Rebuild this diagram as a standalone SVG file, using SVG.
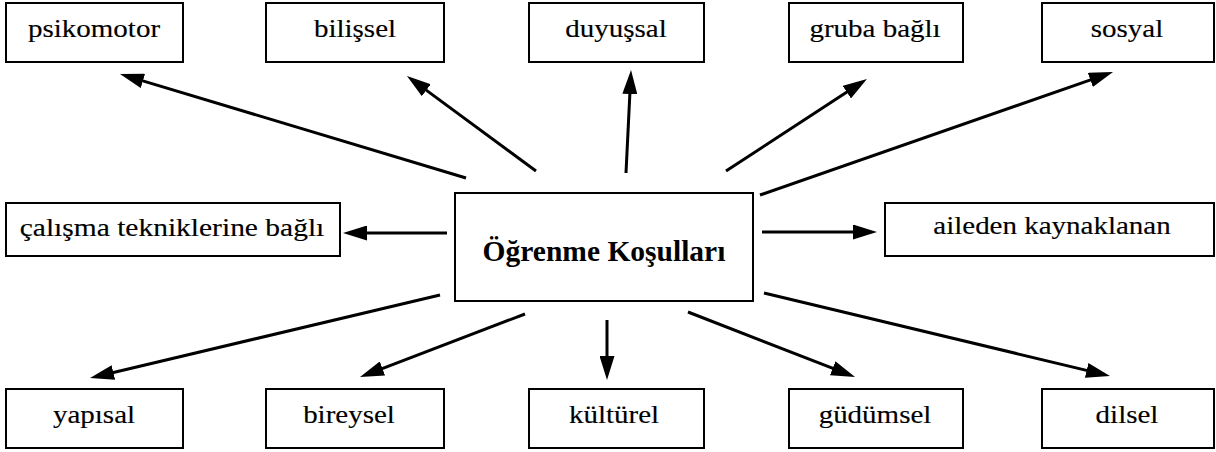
<svg xmlns="http://www.w3.org/2000/svg" width="1216" height="452" viewBox="0 0 1216 452">
<style>
.box{fill:#fff;stroke:#000;stroke-width:2}
.lbl{font-family:"Liberation Serif","Times New Roman",serif;font-size:25px;fill:#000;stroke:#000;stroke-width:0.15;text-anchor:middle}
.main{font-family:"Liberation Serif","Times New Roman",serif;font-weight:bold;font-size:29.5px;fill:#000;text-anchor:middle}
.conn line{stroke:#000;stroke-width:3}
</style>
<defs>
<marker id="ah" markerUnits="userSpaceOnUse" markerWidth="24" markerHeight="15" refX="1" refY="7.5" orient="auto">
<path d="M0,0 L24,7.5 L0,15 z" fill="#000"/>
</marker>
</defs>
<rect width="1216" height="452" fill="#fff"/>
<g class="conn">
<line x1="466" y1="178" x2="142" y2="80.6" marker-end="url(#ah)"/>
<line x1="536" y1="171" x2="425.5" y2="89.6" marker-end="url(#ah)"/>
<line x1="626" y1="173" x2="629.9" y2="93" marker-end="url(#ah)"/>
<line x1="726" y1="171" x2="847.7" y2="91.6" marker-end="url(#ah)"/>
<line x1="760" y1="195" x2="1091.3" y2="79.6" marker-end="url(#ah)"/>
<line x1="447" y1="233" x2="366" y2="233" marker-end="url(#ah)"/>
<line x1="762" y1="232" x2="854" y2="232" marker-end="url(#ah)"/>
<line x1="440" y1="295" x2="112.4" y2="372.7" marker-end="url(#ah)"/>
<line x1="525" y1="314" x2="381.5" y2="368.8" marker-end="url(#ah)"/>
<line x1="607" y1="320" x2="607" y2="357" marker-end="url(#ah)"/>
<line x1="688" y1="312" x2="833.6" y2="368.7" marker-end="url(#ah)"/>
<line x1="764" y1="293" x2="1087.6" y2="370.6" marker-end="url(#ah)"/>
</g>
<g id="n-psikomotor"><rect class="box" x="6" y="3" width="177" height="59"/><text class="lbl" transform="translate(94,37) scale(1.16,1)">psikomotor</text></g>
<g id="n-bilissel"><rect class="box" x="266" y="3" width="178" height="59"/><text class="lbl" transform="translate(355,37) scale(1.16,1)">bilişsel</text></g>
<g id="n-duyussal"><rect class="box" x="529" y="3" width="175" height="59"/><text class="lbl" transform="translate(616,37) scale(1.16,1)">duyuşsal</text></g>
<g id="n-gruba"><rect class="box" x="789" y="3" width="174" height="59"/><text class="lbl" transform="translate(875,37) scale(1.16,1)">gruba bağlı</text></g>
<g id="n-sosyal"><rect class="box" x="1042" y="3" width="172" height="59"/><text class="lbl" transform="translate(1127,37) scale(1.16,1)">sosyal</text></g>
<g id="n-calisma"><rect class="box" x="6" y="203" width="334" height="53"/><text class="lbl" transform="translate(172,236) scale(1.18,1)">çalışma tekniklerine bağlı</text></g>
<g id="n-center"><rect class="box" x="455" y="193" width="298" height="108"/><text class="main" x="604" y="261">Öğrenme Koşulları</text></g>
<g id="n-aileden"><rect class="box" x="885" y="203" width="329" height="53"/><text class="lbl" transform="translate(1052,234) scale(1.16,1)">aileden kaynaklanan</text></g>
<g id="n-yapisal"><rect class="box" x="6" y="389" width="177" height="59"/><text class="lbl" transform="translate(94,423) scale(1.16,1)">yapısal</text></g>
<g id="n-bireysel"><rect class="box" x="266" y="389" width="178" height="59"/><text class="lbl" transform="translate(349,423) scale(1.16,1)">bireysel</text></g>
<g id="n-kulturel"><rect class="box" x="529" y="389" width="175" height="59"/><text class="lbl" transform="translate(614,423) scale(1.16,1)">kültürel</text></g>
<g id="n-gudumsel"><rect class="box" x="789" y="389" width="174" height="59"/><text class="lbl" transform="translate(875,423) scale(1.16,1)">güdümsel</text></g>
<g id="n-dilsel"><rect class="box" x="1042" y="389" width="172" height="59"/><text class="lbl" transform="translate(1127,423) scale(1.16,1)">dilsel</text></g>
</svg>
